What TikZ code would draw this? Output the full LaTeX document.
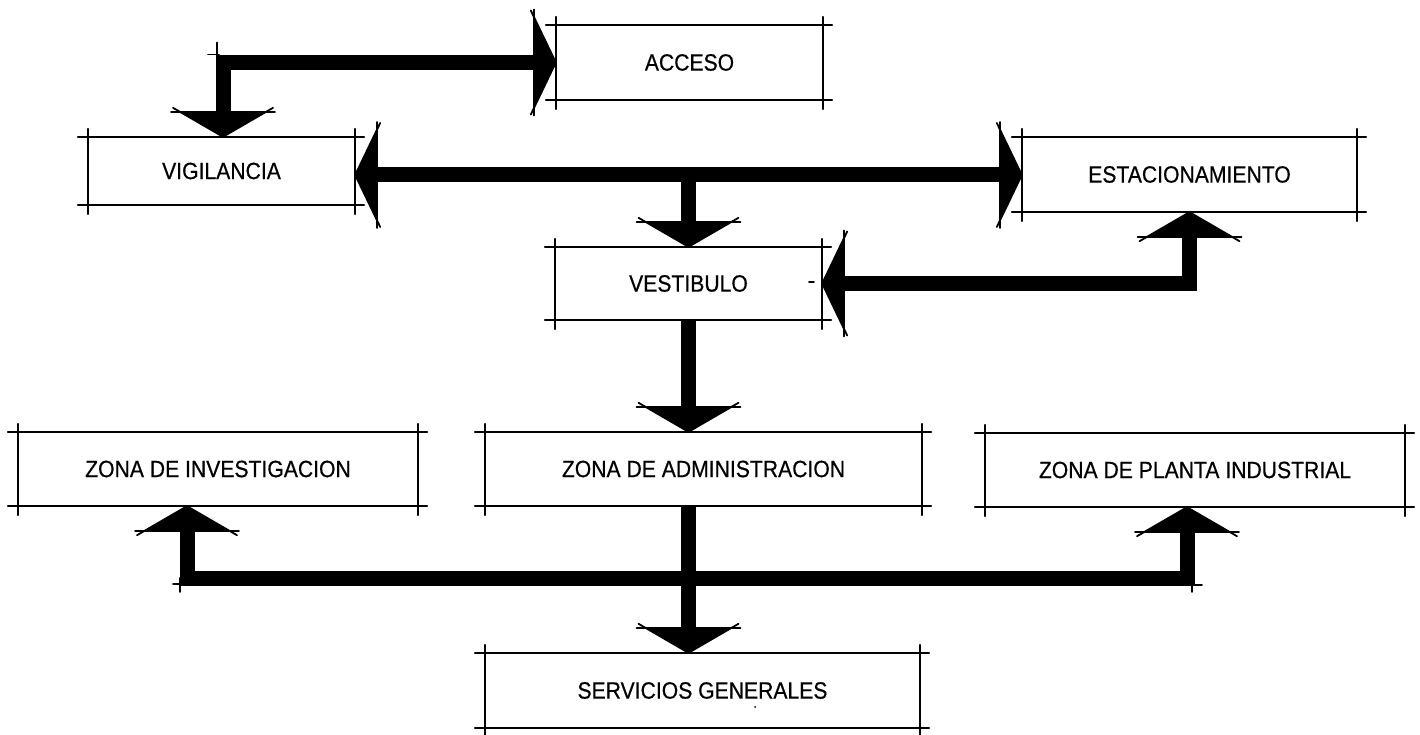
\documentclass[tikz,border=0pt]{standalone}
\usepackage{fontspec}
\setmainfont{Liberation Sans}
\newfontfamily\labfont[FakeStretch=0.9,FakeBold=0.5]{Liberation Sans}
\usetikzlibrary{arrows.meta,calc}
\newcommand\skbox[1]{%
  \draw[edge] ($(#1.north west)+(-10,0)$) -- ($(#1.north east)+(9,0)$);
  \draw[edge] ($(#1.south west)+(-10,0)$) -- ($(#1.south east)+(9,0)$);
  \draw[edge] ($(#1.north west)+(0,-8)$) -- ($(#1.south west)+(0,9)$);
  \draw[edge] ($(#1.north east)+(0,-8)$) -- ($(#1.south east)+(0,9)$);}
\begin{document}
\begin{tikzpicture}[x=1pt,y=-1pt,
  box/.style={draw=none,inner sep=0pt,font=\labfont\fontsize{23.5}{27}\selectfont},
  edge/.style={line width=1.8pt,line cap=round},
  conn/.style={line width=15pt},
  htip/.tip={Triangle[length=22pt,width=92pt,line width=0.4pt]},
  vtip/.tip={Triangle[length=25pt,width=86pt,line width=0.4pt]},
  vmarks/.pic={\draw[edge] (-25,-52) -- (-25,52);
               \draw[edge] (0,0) -- (-29,50);
               \draw[edge] (0,0) -- (-29,-50);},
  hmarks/.pic={\draw[edge] (-22,-53) -- (-22,53);
               \draw[edge] (0,0) -- (-25,52);
               \draw[edge] (0,0) -- (-25,-52);}
]
\useasboundingbox (0,0) rectangle (1420,735);
\fill[white] (0,0) rectangle (1420,735);

% boxes
\node[box,minimum width=267pt,minimum height=75pt] (acc) at (689.5,62.5) {ACCESO};
\node[box,minimum width=267pt,minimum height=68pt] (vig) at (221.5,171) {VIGILANCIA};
\node[box,minimum width=335pt,minimum height=75pt] (est) at (1189.5,174.5) {ESTACIONAMIENTO};
\node[box,minimum width=267pt,minimum height=73pt] (ves) at (688.5,283.5) {VESTIBULO};
\node[box,minimum width=400pt,minimum height=74pt] (inv) at (218,469) {ZONA DE INVESTIGACION};
\node[box,minimum width=437pt,minimum height=74pt] (adm) at (703.5,469) {ZONA DE ADMINISTRACION};
\node[box,minimum width=420pt,minimum height=74pt] (pla) at (1195,470) {ZONA DE PLANTA INDUSTRIAL};
\node[box,minimum width=435pt,minimum height=75pt] (ser) at (702.5,690.5) {SERVICIOS GENERALES};
\foreach \n in {acc,vig,est,ves,inv,adm,pla,ser}{\skbox{\n}}

% junctions
\coordinate (j1) at (223,62.5);
\coordinate (j2) at (688.5,175);
\coordinate (b1) at (187,578);
\coordinate (b2) at (1187,578);

% connectors
\draw[conn,vtip-htip] (vig.north -| j1) |- (acc.west);
\draw[conn,htip-htip] (vig.east |- j2) -- (est.west |- j2);
\draw[conn,-vtip] (j2) -- (ves.north);
\draw[conn,vtip-htip] (est.south) |- (ves.east);
\draw[conn,-vtip] (ves.south) -- (ves.south |- adm.north);
\draw[conn,-vtip] (adm.south -| ves.south) -- (ser.north -| ves.south);
\draw[conn,vtip-vtip] (inv.south -| b1) -- (b1) -- (b2) -- (pla.south -| b2);

% sketch marks at tips
\pic at (acc.west) {hmarks};
\pic[rotate=-90] at (vig.north -| j1) {vmarks};
\pic[rotate=180] at (vig.east |- j2) {hmarks};
\pic at (est.west |- j2) {hmarks};
\pic[rotate=-90] at (ves.north) {vmarks};
\pic[rotate=90] at (est.south) {vmarks};
\pic[rotate=180] at (ves.east) {hmarks};
\pic[rotate=-90] at (ves.south |- adm.north) {vmarks};
\pic[rotate=-90] at (ser.north -| ves.south) {vmarks};
\pic[rotate=90] at (inv.south -| b1) {vmarks};
\pic[rotate=90] at (pla.south -| b2) {vmarks};

% corner ticks
\draw[edge] ($(j1)+(-6,-20)$) -- ($(j1)+(-6,5)$);
\draw[edge] ($(j1)+(-15,-8)$) -- ($(j1)+(-4,-8)$);
\draw[edge] ($(b1)+(-7,0)$) -- ($(b1)+(-7,14)$);
\draw[edge] ($(b1)+(-14,6)$) -- ($(b1)+(-4,6)$);
\draw[edge] ($(b2)+(5,0)$) -- ($(b2)+(5,14)$);
\draw[edge] ($(b2)+(2,7)$) -- ($(b2)+(15,7)$);
\draw[edge] (809,282) -- (814,282);
\fill (755,707) circle (1pt);
\end{tikzpicture}
\end{document}
